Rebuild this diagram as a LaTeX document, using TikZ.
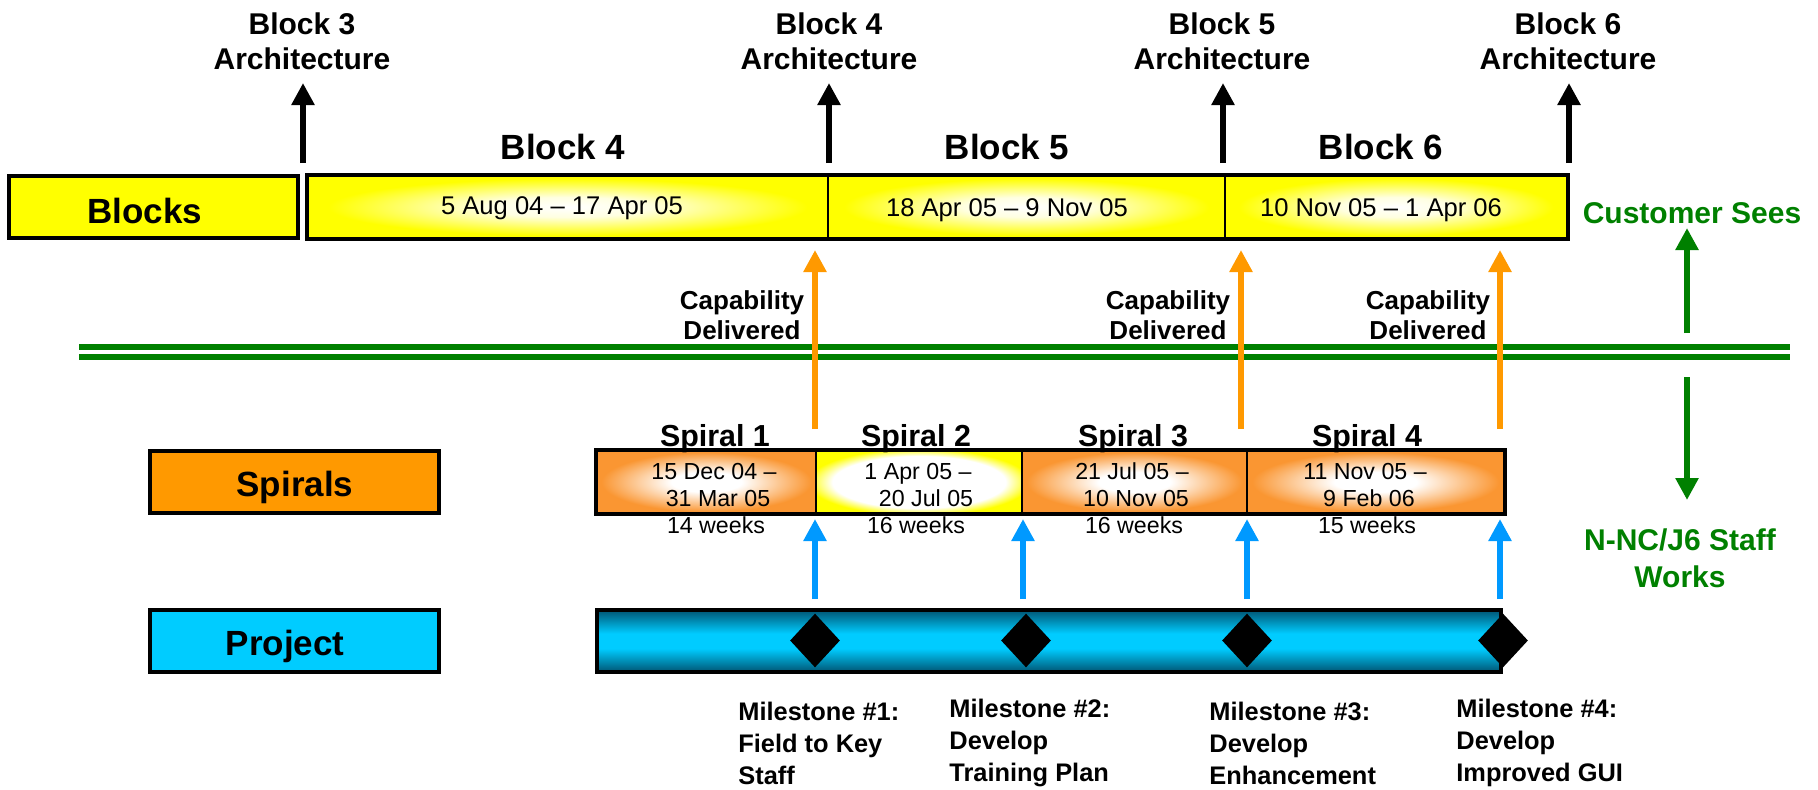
\documentclass[tikz,border=0pt]{standalone}
\usepackage{fontspec}
\setmainfont{Liberation Sans}
\usetikzlibrary{arrows.meta,shapes.geometric}
\definecolor{byel}{RGB}{255,255,0}
\definecolor{sorg}{RGB}{255,153,0}
\definecolor{spirorg}{RGB}{250,150,50}
\definecolor{pcyan}{RGB}{0,204,255}
\definecolor{pdark}{RGB}{0,85,115}
\definecolor{grn}{RGB}{0,128,0}
\definecolor{oarr}{RGB}{255,153,0}
\definecolor{barr}{RGB}{0,153,255}
\pgfdeclareradialshading{yelrad}{\pgfpoint{0bp}{0bp}}{color(0bp)=(white); color(8bp)=(white!88!byel); color(23bp)=(byel); color(50bp)=(byel)}
\pgfdeclareradialshading{orgrad}{\pgfpoint{0bp}{0bp}}{color(0bp)=(white); color(8bp)=(white); color(24bp)=(spirorg); color(50bp)=(spirorg)}
\pgfdeclareradialshading{stworad}{\pgfpoint{0bp}{0bp}}{color(0bp)=(white); color(21bp)=(white); color(27bp)=(byel); color(50bp)=(byel)}
\pgfdeclareverticalshading{projsh}{100bp}{color(0bp)=(pdark); color(25bp)=(pdark); color(44bp)=(pcyan); color(56bp)=(pcyan); color(75bp)=(pdark); color(100bp)=(pdark)}
\tikzset{
  archlbl/.style={font=\fontsize{15}{17.5}\selectfont\bfseries, align=center, inner sep=0},
  blkhead/.style={font=\fontsize{17.5}{20}\selectfont\bfseries, inner sep=0},
  boxlbl/.style={draw=black, line width=1.8pt, minimum width=144.5pt, minimum height=31pt, inner sep=0},
  boxtxt/.style={font=\fontsize{17.5}{20}\selectfont\bfseries, inner sep=0},
  seg/.style={draw=black, line width=1pt, minimum height=31pt, inner sep=0},
  datetxt/.style={font=\fontsize{12.8}{15}\selectfont, inner sep=0},
  sdate/.style={font=\fontsize{11.6}{13.5}\selectfont, align=center, inner sep=0},
  spirhead/.style={font=\fontsize{15.2}{18}\selectfont\bfseries, inner sep=0},
  captxt/.style={font=\fontsize{13}{15}\selectfont\bfseries, align=center, inner sep=0},
  miletxt/.style={font=\fontsize{12.7}{16}\selectfont\bfseries, align=left, anchor=west, inner sep=0},
  grntxt/.style={text=grn, font=\fontsize{15}{18.5}\selectfont\bfseries, align=center, inner sep=0},
  blkarrow/.style={line width=3pt, -{Triangle[width=11pt,length=11pt]}},
  orgarrow/.style={oarr, line width=3.4pt, -{Triangle[width=11pt,length=11pt]}},
  bluarrow/.style={barr, line width=3.4pt, -{Triangle[width=11pt,length=11pt]}},
  grnarrow/.style={grn, line width=3.4pt, -{Triangle[width=11pt,length=11pt]}},
  milediamond/.style={diamond, fill=black, inner sep=0, minimum width=25pt, minimum height=27pt},
}
\begin{document}
\begin{tikzpicture}[x=0.5pt,y=-0.5pt]
\useasboundingbox (0,0) rectangle (1818,789);
% top architecture labels
\node[archlbl] (a3) at (302,41) {Block 3\\Architecture};
\node[archlbl] (a4) at (829,41) {Block 4\\Architecture};
\node[archlbl] (a5) at (1222,41) {Block 5\\Architecture};
\node[archlbl] (a6) at (1568,41) {Block 6\\Architecture};
\coordinate (a3s) at (303,163); \coordinate (a3t) at (303,83);
\coordinate (a4s) at (829,163); \coordinate (a4t) at (829,83);
\coordinate (a5s) at (1223,163); \coordinate (a5t) at (1223,83);
\coordinate (a6s) at (1569,163); \coordinate (a6t) at (1569,83);
\draw[blkarrow] (a3s) -- (a3t);
\draw[blkarrow] (a4s) -- (a4t);
\draw[blkarrow] (a5s) -- (a5t);
\draw[blkarrow] (a6s) -- (a6t);
% block headings
\node[blkhead] (h4) at (563,147) {Block 4};
\node[blkhead] (h5) at (1007,147) {Block 5};
\node[blkhead] (h6) at (1381,147) {Block 6};
% blocks row
\node[boxlbl, fill=byel] (blocks) at (153.5,207) {};
\node[boxtxt] (blockst) at (145,211) {Blocks};
\node[seg, shade, shading=yelrad, minimum width=260.25pt] (b4) at (567.75,207) {};
\node[seg, shade, shading=yelrad, minimum width=198.5pt] (b5) at (1026.5,207) {};
\node[seg, shade, shading=yelrad, minimum width=171pt] (b6) at (1396,207) {};
\draw[line width=1.8pt] (b4.north west) rectangle (b6.south east);
\node[datetxt] (d4) at (562,208) {5 Aug 04 -- 17 Apr 05};
\node[datetxt] (d5) at (1007,210) {18 Apr 05 -- 9 Nov 05};
\node[datetxt] (d6) at (1381,210) {10 Nov 05 -- 1 Apr 06};
% customer sees
\node[grntxt] (cust) at (1692,213) {Customer Sees};
\coordinate (gu1) at (1687,333); \coordinate (gu2) at (1687,228);
\draw[grnarrow] (gu1) -- (gu2);
% green double line
\coordinate (gl1) at (79,347); \coordinate (gr1) at (1790,347);
\coordinate (gl2) at (79,357); \coordinate (gr2) at (1790,357);
\draw[grn, line width=2.6pt] (gl1) -- (gr1);
\draw[grn, line width=2.6pt] (gl2) -- (gr2);
% down arrow
\coordinate (gd1) at (1687,377); \coordinate (gd2) at (1687,500);
\draw[grnarrow] (gd1) -- (gd2);
\node[grntxt] (staff) at (1680,558) {N-NC/J6 Staff\\Works};
% capability delivered
\node[captxt] (c1) at (742,315) {Capability\\Delivered};
\node[captxt] (c2) at (1168,315) {Capability\\Delivered};
\node[captxt] (c3) at (1428,315) {Capability\\Delivered};
\coordinate (o1s) at (815,429); \coordinate (o1t) at (815,250);
\coordinate (o2s) at (1241,429); \coordinate (o2t) at (1241,250);
\coordinate (o3s) at (1500,429); \coordinate (o3t) at (1500,250);
\draw[orgarrow] (o1s) -- (o1t);
\draw[orgarrow] (o2s) -- (o2t);
\draw[orgarrow] (o3s) -- (o3t);
% spirals row
\node[boxlbl, fill=sorg] (spirals) at (294.5,482) {};
\node[boxtxt] (spiralst) at (295,487) {Spirals};
\node[seg, shade, shading=orgrad, minimum width=109.5pt] (s1) at (706.5,482) {};
\node[seg, shade, shading=stworad, minimum width=103pt] (s2) at (919,482) {};
\node[seg, shade, shading=orgrad, minimum width=112.5pt] (s3) at (1134.5,482) {};
\node[seg, shade, shading=orgrad, minimum width=128.5pt] (s4) at (1375.5,482) {};
\draw[line width=1.8pt] (s1.north west) rectangle (s4.south east);
\node[spirhead] (sh1) at (715,439) {Spiral 1};
\node[spirhead] (sh2) at (916,439) {Spiral 2};
\node[spirhead] (sh3) at (1133,439) {Spiral 3};
\node[spirhead] (sh4) at (1367,439) {Spiral 4};
\node[sdate] (sd1) at (714,485) {15 Dec 04 --\\\hspace*{4pt}31 Mar 05};
\node[sdate] (sd2) at (918,485) {1 Apr 05 --\\\hspace*{8pt}20 Jul 05};
\node[sdate] (sd3) at (1132,485) {21 Jul 05 --\\\hspace*{4pt}10 Nov 05};
\node[sdate] (sd4) at (1365,485) {11 Nov 05 --\\\hspace*{4pt}9 Feb 06};
\node[sdate] (w1) at (716,525) {14 weeks};
\node[sdate] (w2) at (916,525) {16 weeks};
\node[sdate] (w3) at (1134,525) {16 weeks};
\node[sdate] (w4) at (1367,525) {15 weeks};
% blue arrows
\coordinate (u1s) at (815,599); \coordinate (u1t) at (815,519);
\coordinate (u2s) at (1023,599); \coordinate (u2t) at (1023,519);
\coordinate (u3s) at (1247,599); \coordinate (u3t) at (1247,519);
\coordinate (u4s) at (1500,599); \coordinate (u4t) at (1500,519);
\draw[bluarrow] (u1s) -- (u1t);
\draw[bluarrow] (u2s) -- (u2t);
\draw[bluarrow] (u3s) -- (u3t);
\draw[bluarrow] (u4s) -- (u4t);
% project row
\node[boxlbl, fill=pcyan] (project) at (294.5,641) {};
\node[boxtxt] (projectt) at (285,646) {Project};
\node[draw=black, line width=1.8pt, shade, shading=projsh, minimum width=452pt, minimum height=31pt, inner sep=0] (pbar) at (1049,641) {};
\node[milediamond] (m1) at (815,640.5) {};
\node[milediamond] (m2) at (1026,640.5) {};
\node[milediamond] (m3) at (1247,640.5) {};
\node[milediamond] (m4) at (1503,640.5) {};
% milestone labels
\node[miletxt] (ml1) at (738,743) {Milestone \#1:\\Field to Key\\Staff};
\node[miletxt] (ml2) at (949,743) {Milestone \#2:\\Develop\\Training Plan};
\node[miletxt] (ml3) at (1209,743) {Milestone \#3:\\Develop\\Enhancement};
\node[miletxt] (ml4) at (1456,743) {Milestone \#4:\\Develop\\Improved GUI};
\end{tikzpicture}
\end{document}
